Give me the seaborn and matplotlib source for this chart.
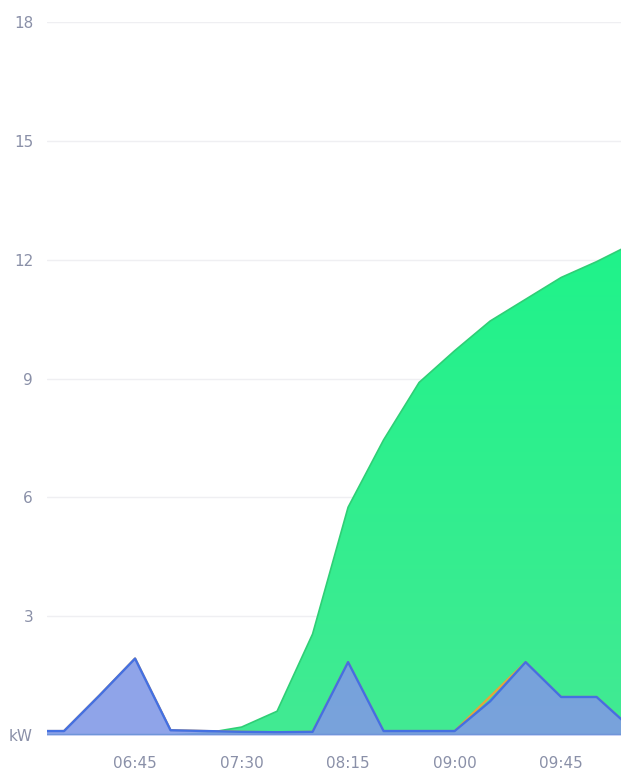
import numpy as np
import pandas as pd
import matplotlib
matplotlib.use("Agg")
import matplotlib.pyplot as plt
import seaborn as sns
from matplotlib.colors import LinearSegmentedColormap

# ---- data ----
times = ["06:00", "06:15", "06:30", "06:45", "07:00", "07:15", "07:30", "07:45",
         "08:00", "08:15", "08:30", "08:45", "09:00", "09:15", "09:30", "09:45",
         "10:00", "10:15"]
solar = [0.0, 0.0, 0.0, 0.0, 0.0, 0.05, 0.2, 0.6, 2.55, 5.75, 7.45, 8.9,
         9.7, 10.45, 11.0, 11.55, 11.95, 12.4]
load = [0.1, 0.1, 1.0, 1.93, 0.12, 0.1, 0.08, 0.07, 0.08, 1.84, 0.1, 0.1,
        0.1, 0.85, 1.84, 0.96, 0.96, 0.15]
other = [0.1, 0.1, 1.0, 1.93, 0.12, 0.1, 0.08, 0.07, 0.08, 1.84, 0.1, 0.1,
         0.1, 0.97, 1.84, 0.96, 0.96, 0.15]
y_ticks = [0, 3, 6, 9, 12, 15, 18]
y_labels = ["kW", "3", "6", "9", "12", "15", "18"]
x_tick_labels = ["06:45", "07:30", "08:15", "09:00", "09:45"]

def to_min(t):
    h, m = t.split(":")
    return int(h) * 60 + int(m)

df = pd.DataFrame({
    "t": [to_min(t) for t in times],
    "solar": solar,
    "load": load,
    "other": other,
})

sns.set_theme(style="white")
fig = plt.figure(figsize=(6.21, 7.71), dpi=100)
ax = fig.add_axes([47 / 621, 1 - 735 / 771, 1 - 47 / 621, (735 - 22) / 771])

xmin, xmax = 367.8, 610.3
ax.set_xlim(xmin, xmax)
ax.set_ylim(0, 18)

# grid lines
for yv in y_ticks[1:]:
    ax.axhline(yv, color="#efeff2", lw=1.0, zorder=0)

# green gradient area
poly = ax.fill_between(df["t"], 0, df["solar"], color="none", lw=0, zorder=1)
grad = np.linspace(0, 1, 256).reshape(-1, 1)
cmap = LinearSegmentedColormap.from_list("g", ["#42ea93", "#1ff38a"])
im = ax.imshow(grad, cmap=cmap, aspect="auto", origin="lower",
               extent=[360, 615, 0, 12.5], zorder=1)
path = poly.get_paths()[0]
im.set_clip_path(path, transform=ax.transData)
sns.lineplot(data=df, x="t", y="solar", ax=ax, color="#2fcf76", lw=1.2,
             zorder=2, legend=False)

# orange series (mostly hidden beneath blue)
sns.lineplot(data=df, x="t", y="other", ax=ax, color="#e8a23a", lw=1.6,
             zorder=3, legend=False)

# blue area
ax.fill_between(df["t"], 0, df["load"], color="#8098e6", alpha=0.88, lw=0, zorder=4)
sns.lineplot(data=df, x="t", y="load", ax=ax, color="#4470e2", lw=1.7,
             zorder=5, legend=False)

# baseline
ax.axhline(0, color="#6f95d8", lw=2.5, zorder=6)

ax.set_yticks(y_ticks)
ax.set_yticklabels(y_labels)
ax.set_xticks([to_min(t) for t in x_tick_labels])
ax.set_xticklabels(x_tick_labels)
ax.tick_params(axis="both", length=0, labelsize=11, colors="#8a90a8")
ax.tick_params(axis="y", pad=10)
ax.tick_params(axis="x", pad=15)
ax.set_xlabel("")
ax.set_ylabel("")
for s in ax.spines.values():
    s.set_visible(False)
ax.grid(False)

fig.savefig("out.png", dpi=100)
